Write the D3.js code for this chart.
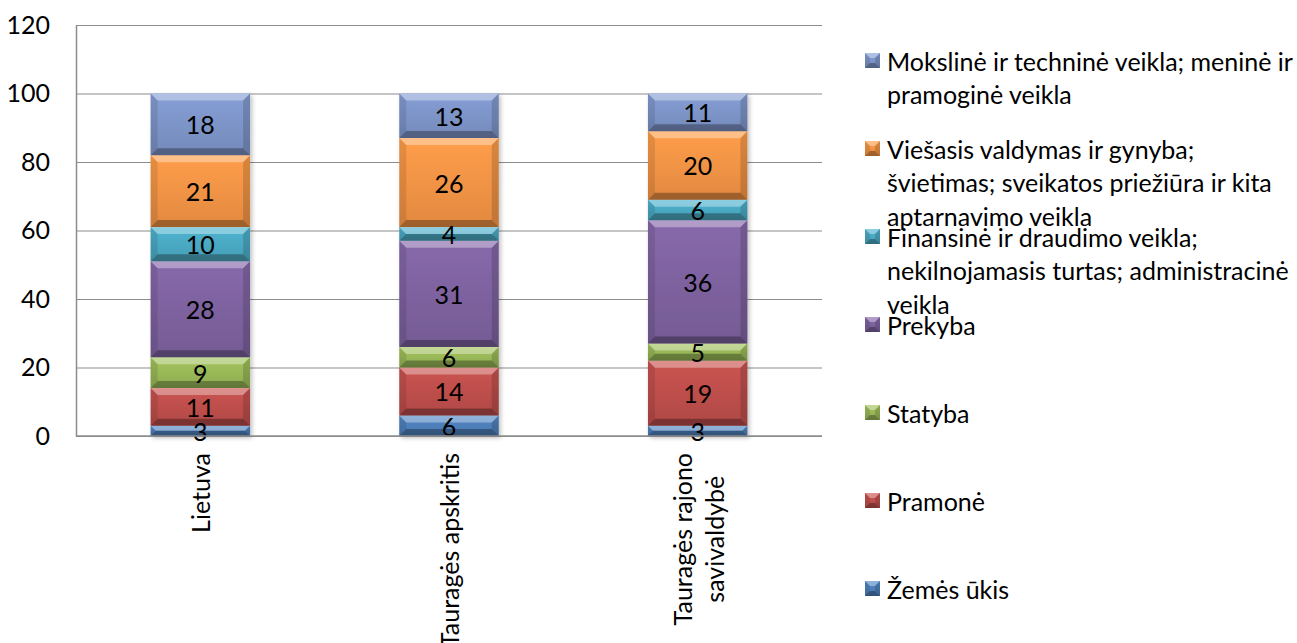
<!DOCTYPE html>
<meta charset="utf-8">
<script src="https://d3js.org/d3.v7.min.js"></script>
<style>
  body { margin: 0; background: #fff; }
  text { font-family: Lato, "Open Sans", sans-serif; fill: #000; }
</style>
<div id="chart"></div>
<script>
  // x categories (line breaks as in the picture)
  const categories = ["Lietuva", "Tauragės apskritis", "Tauragės rajono\nsavivaldybė"];

  // series, stacked bottom to top
  const seriesNames = [
    "Žemės ūkis",
    "Pramonė",
    "Statyba",
    "Prekyba",
    "Finansinė ir draudimo veikla;\nnekilnojamasis turtas; administracinė\nveikla",
    "Viešasis valdymas ir gynyba;\nšvietimas; sveikatos priežiūra ir kita\naptarnavimo veikla",
    "Mokslinė ir techninė veikla; meninė ir\npramoginė veikla"
  ];
  const zemesUkis = [3, 6, 3];
  const pramone   = [11, 14, 19];
  const statyba   = [9, 6, 5];
  const prekyba   = [28, 31, 36];
  const finansine = [10, 4, 6];
  const viesasis  = [21, 26, 20];
  const moksline  = [18, 13, 11];
  const seriesValues = [zemesUkis, pramone, statyba, prekyba, finansine, viesasis, moksline];
  const yTicks = [0, 20, 40, 60, 80, 100, 120];
  const colors = ["#4F81BD", "#C0504D", "#9BBB59", "#8064A2", "#4BACC6", "#F79646", "#7F97CB"];

  const W = 1297, H = 643;
  const plot = {left: 76, right: 822, top: 25, bottom: 436};
  const fontSize = 25;

  const svg = d3.select("#chart").append("svg")
    .attr("width", W).attr("height", H);

  // table for the stack
  const table = categories.map((c, i) => {
    const row = {cat: c};
    seriesNames.forEach((s, j) => row[j] = seriesValues[j][i]);
    return row;
  });
  const keys = seriesNames.map((s, j) => j);
  const stacked = d3.stack().keys(keys)(table);

  const x = d3.scaleBand()
    .domain(categories)
    .range([plot.left, plot.right])
    .paddingInner(0.6)
    .paddingOuter(0.3);

  const y = d3.scaleLinear()
    .domain([0, 120])
    .range([plot.bottom, plot.top]);

  // gradients + shadow
  const defs = svg.append("defs");
  colors.forEach((c, i) => {
    const g = defs.append("linearGradient").attr("id", "grad" + i)
      .attr("x1", 0).attr("y1", 0).attr("x2", 0).attr("y2", 1);
    g.append("stop").attr("offset", "0%").attr("stop-color", d3.color(c).brighter(0.15));
    g.append("stop").attr("offset", "100%").attr("stop-color", d3.color(c).darker(0.25));
  });
  const f = defs.append("filter").attr("id", "shadow")
    .attr("x", "-10%").attr("y", "-10%").attr("width", "130%").attr("height", "130%");
  f.append("feDropShadow").attr("dx", 2).attr("dy", 2).attr("stdDeviation", 2)
    .attr("flood-color", "#000").attr("flood-opacity", 0.25);

  // grid lines
  svg.append("g")
    .attr("transform", `translate(${plot.left},0)`)
    .call(d3.axisLeft(y).tickValues(yTicks).tickSize(-(plot.right - plot.left)).tickFormat(""))
    .call(g => g.select(".domain").remove())
    .call(g => g.selectAll("line").attr("stroke", "#8c8c8c").attr("stroke-width", 1.2));

  // y axis line + labels
  const yAxis = svg.append("g")
    .attr("transform", `translate(${plot.left},0)`)
    .call(d3.axisLeft(y).tickValues(yTicks).tickSize(0).tickPadding(26));
  yAxis.select(".domain").attr("stroke", "#8c8c8c").attr("stroke-width", 1.5);
  yAxis.selectAll("text")
    .style("font-family", "Lato, sans-serif")
    .style("font-size", fontSize + "px")
    .attr("fill", "#000");

  // bevelled segment
  function bevelRect(g, x0, y0, w, h, color, gi, b) {
    b = Math.min(b, h / 2, w / 2);
    g.append("rect").attr("x", x0).attr("y", y0).attr("width", w).attr("height", h)
      .attr("fill", `url(#grad${gi})`);
    const poly = (pts, fill, op) => g.append("polygon")
      .attr("points", pts.map(p => p.join(",")).join(" "))
      .attr("fill", fill).attr("fill-opacity", op);
    poly([[x0, y0], [x0 + w, y0], [x0 + w - b, y0 + b], [x0 + b, y0 + b]], "#fff", 0.35);
    poly([[x0, y0 + h], [x0 + w, y0 + h], [x0 + w - b, y0 + h - b], [x0 + b, y0 + h - b]], "#000", 0.3);
    poly([[x0, y0], [x0 + b, y0 + b], [x0 + b, y0 + h - b], [x0, y0 + h]], "#000", 0.1);
    poly([[x0 + w, y0], [x0 + w - b, y0 + b], [x0 + w - b, y0 + h - b], [x0 + w, y0 + h]], "#000", 0.15);
  }

  // bars
  const bars = svg.append("g").attr("filter", "url(#shadow)");
  stacked.forEach((layer, li) => {
    layer.forEach(d => {
      const g = bars.append("g");
      const y0 = y(d[1]), h = y(d[0]) - y(d[1]);
      bevelRect(g, x(d.data.cat), y0, x.bandwidth(), h, colors[li], li, 7);
    });
  });

  // data labels
  const labels = svg.append("g");
  stacked.forEach((layer, li) => {
    layer.forEach(d => {
      labels.append("text")
        .attr("x", x(d.data.cat) + x.bandwidth() / 2)
        .attr("y", (y(d[0]) + y(d[1])) / 2)
        .attr("text-anchor", "middle")
        .attr("dominant-baseline", "central")
        .style("font-size", fontSize + "px")
        .text(d.data[li]);
    });
  });

  // x axis line
  svg.append("line")
    .attr("x1", plot.left).attr("x2", plot.right)
    .attr("y1", y(0)).attr("y2", y(0))
    .attr("stroke", "#8c8c8c").attr("stroke-width", 1.5);

  // rotated category labels
  const catLineGap = 32;
  categories.forEach(c => {
    const lines = c.split("\n");
    const g = svg.append("g");
    const t = g.append("text")
      .attr("text-anchor", "middle")
      .style("font-size", fontSize + "px");
    lines.forEach((ln, i) => {
      t.append("tspan")
        .attr("x", 0)
        .attr("y", (i - (lines.length - 1) / 2) * catLineGap)
        .attr("dominant-baseline", "central")
        .text(ln);
    });
    const len = d3.max(t.selectAll("tspan").nodes(), n => n.getComputedTextLength());
    g.attr("transform", `translate(${x(c) + x.bandwidth() / 2},${y(0) + 17 + len / 2}) rotate(-90)`);
  });

  // legend (top item is the last series)
  const legend = svg.append("g");
  const legTop = 60.5, legStep = 88, legLine = 33.5;
  seriesNames.slice().reverse().forEach((name, i) => {
    const si = seriesNames.length - 1 - i;
    const cy = legTop + i * legStep;
    const g = legend.append("g");
    bevelRect(g, 865, cy - 7.5, 15, 15, colors[si], si, 5);
    const t = g.append("text").style("font-size", fontSize + "px");
    name.split("\n").forEach((ln, k) => {
      t.append("tspan")
        .attr("x", 887)
        .attr("y", cy + k * legLine)
        .attr("dominant-baseline", "central")
        .text(ln);
    });
  });
</script>
